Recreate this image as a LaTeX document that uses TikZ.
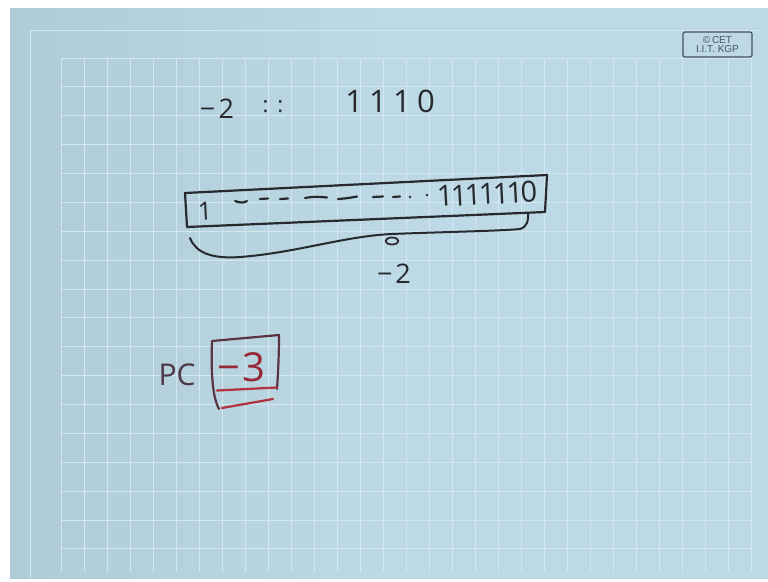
\documentclass[tikz,border=0pt]{standalone}
\usepackage{fontspec}
\setmainfont{Open Sans}
\newfontfamily\logofont{Liberation Sans}
\definecolor{bgblue}{HTML}{BDD9E5}
\definecolor{bgedge}{HTML}{AECBD6}
\definecolor{gridc}{HTML}{D2E7EF}
\definecolor{inkc}{HTML}{262A2E}
\definecolor{pcink}{HTML}{4E3A46}
\definecolor{frameink}{HTML}{5A3440}
\definecolor{redink}{HTML}{B2303F}
\definecolor{logoc}{HTML}{46535D}
\tikzset{
  ink/.style={draw=inkc, line width=2.2pt, line cap=round, line join=round},
  frameline/.style={draw=frameink, line width=2.2pt, line cap=round, line join=round},
  redline/.style={draw=redink, line width=2.2pt, line cap=round},
  handtext/.style={inner sep=0pt, text=inkc},
  gridline/.style={draw=gridc, line width=1pt},
}
\begin{document}
\begin{tikzpicture}[x=1pt,y=-1pt]
\useasboundingbox (0,0) rectangle (768,581);
% background
\fill[white] (0,0) rectangle (768,581);
\fill[left color=bgedge, right color=bgblue, middle color=bgblue] (10,8) rectangle (768,578);
% outer frame
\draw[gridline] (30,30) -- (762,30);
\draw[gridline] (30,30) -- (30,578);
% grid
\foreach \i in {0,...,30} { \draw[gridline] ({61+23*\i},58) -- ({61+23*\i},572); }
\foreach \j in {0,...,17} { \draw[gridline] (61,{58+28.88*\j}) -- (751,{58+28.88*\j}); }
% logo
\draw[logoc, line width=1.2pt, rounded corners=2pt] (683,32) rectangle (752,57);
\node[inner sep=0pt, text=logoc, align=center, font=\logofont\fontsize{10}{9.5}\selectfont] (logo) at (717.5,44.5) {©\,CET\\I.I.T. KGP};
% top line: -2 :: 1110
\node[handtext, font=\fontsize{27}{27}\selectfont\addfontfeatures{LetterSpace=12}] (m2a) at (217,109) {−2};
\node[handtext, font=\fontsize{22}{22}\selectfont\addfontfeatures{LetterSpace=40}] (colons) at (273,107) {::};
\node[handtext, font=\fontsize{31}{31}\selectfont\addfontfeatures{LetterSpace=20}] (bits) at (390,101) {1110};
% register box
\coordinate (tl) at (185,193);
\coordinate (tr) at (547,175);
\coordinate (br) at (545,212);
\coordinate (bl) at (187,227);
\draw[ink] (tl) -- (tr) -- (br) -- (bl) -- cycle;
\node[handtext, rotate=3, font=\fontsize{25}{25}\selectfont] (msb) at (205,211) {1};
\draw[ink] (235,201) .. controls (240,203) and (244,203) .. (247,201);
\draw[ink] (260,199) -- (268,198.5);
\draw[ink] (280,199) -- (288,198.5);
\draw[ink] (305,198) .. controls (313,196.5) and (320,196.5) .. (327,197.5);
\draw[ink] (338,199) .. controls (346,198.5) and (352,197.5) .. (357,196.5);
\draw[ink] (373,197) -- (383,196.5);
\draw[ink] (393,197) -- (400,196.5);
\fill[inkc] (410,197) circle (1.3);
\fill[inkc] (427,195) circle (1.3);
\node[handtext, rotate=3, font=\fontsize{29}{29}\selectfont\addfontfeatures{LetterSpace=-9}] (lsb) at (487,194) {1111110};
% brace under the register
\coordinate (bs) at (190,238);
\coordinate (bm) at (392,234);
\coordinate (be) at (528,213);
\draw[ink, line width=2pt] (bs) .. controls (196,253) and (212,259) .. (240,257)
  .. controls (295,253) and (345,236) .. (bm)
  .. controls (440,232) and (500,231) .. (520,229)
  .. controls (527,227) and (529,220) .. (be);
\draw[ink, line width=1.8pt] (392,241) ellipse (6.5 and 3.5);
\node[handtext, font=\fontsize{27}{27}\selectfont\addfontfeatures{LetterSpace=10}] (m2b) at (394,274) {−2};
% PC
\node[inner sep=0pt, text=pcink, font=\fontsize{30}{30}\selectfont] (pc) at (177,375) {PC};
\coordinate (rtl) at (212,341);
\coordinate (rtr) at (279,335);
\coordinate (rbr) at (277,389);
\coordinate (rbl) at (219,409);
\draw[frameline] (rbl) .. controls (212,396) and (211,370) .. (rtl) -- (rtr) .. controls (279,355) and (278,375) .. (rbr);
\node[inner sep=0pt, text=redink!85!black, font=\fontsize{40}{40}\selectfont\addfontfeatures{LetterSpace=5}] (pcval) at (241,367) {−3};
\draw[redline] (217,390.5) -- (277,387.5);
\draw[redline] (222,408) -- (273,399);
\end{tikzpicture}
\end{document}
